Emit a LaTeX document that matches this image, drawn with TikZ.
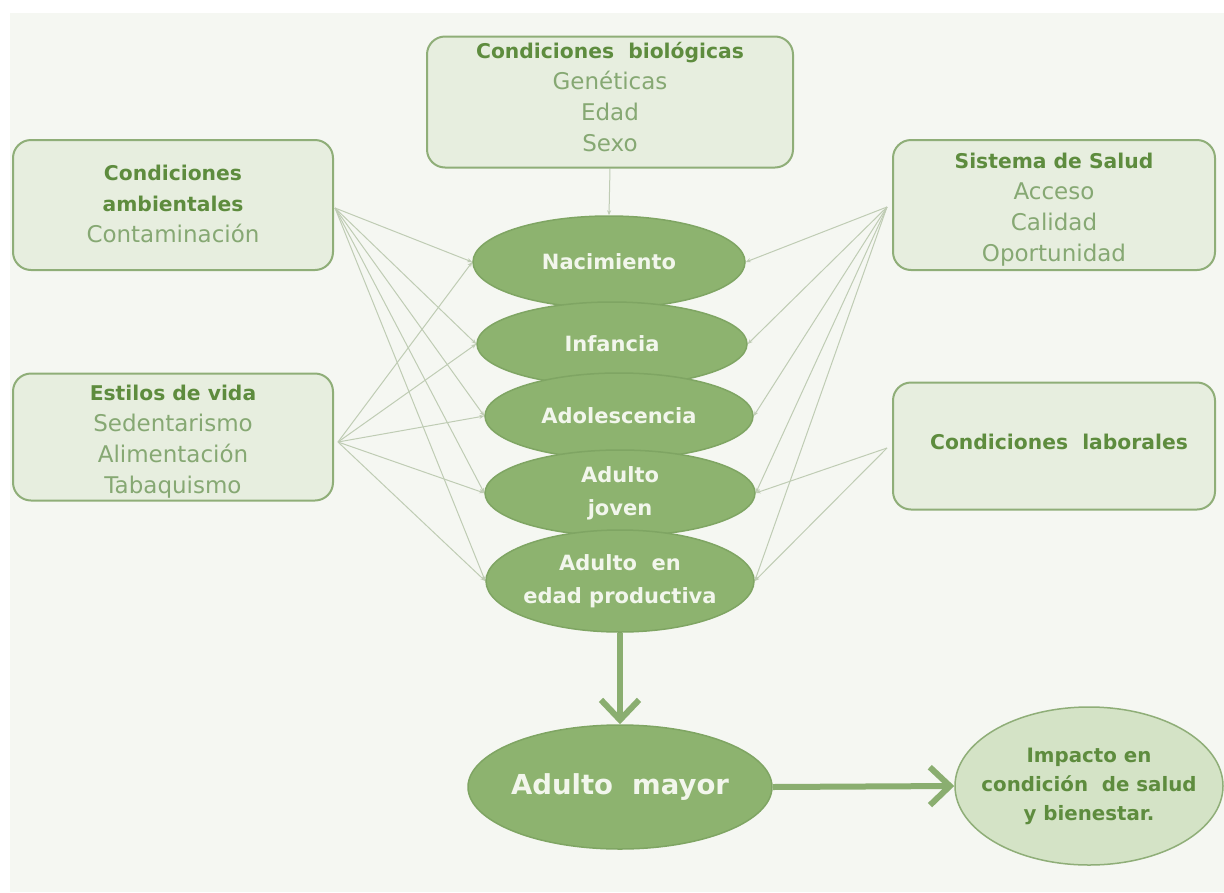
\documentclass[tikz,border=0pt]{standalone}
\usepackage{fontspec}
\setmainfont{DejaVu Sans}
\usetikzlibrary{shapes.geometric,arrows.meta}
\pgfdeclarelayer{back}
\pgfdeclarelayer{lines}
\pgfsetlayers{back,lines,main}
\definecolor{bgc}{HTML}{F5F7F2}
\definecolor{boxfill}{HTML}{E7EEDF}
\definecolor{boxline}{HTML}{8FAE78}
\definecolor{titlec}{HTML}{5E8C3E}
\definecolor{itemc}{HTML}{86A873}
\definecolor{ellfill}{HTML}{8DB36F}
\definecolor{elline}{HTML}{7FA563}
\definecolor{elltext}{HTML}{F2F6EC}
\definecolor{thin}{HTML}{BFCCB4}
\definecolor{thick}{HTML}{8AAE70}
\definecolor{impfill}{HTML}{D4E3C6}
\tikzset{
  factorbox/.style={draw=boxline, line width=2pt, fill=boxfill, rounded corners=18pt, inner sep=0pt},
  boxtext/.style={align=center, text=itemc, font=\fontsize{23}{31}\selectfont, inner sep=0pt},
  stage/.style={ellipse, draw=elline, line width=1.5pt, fill=ellfill, inner sep=-30pt, align=center,
    text=elltext, font=\bfseries\fontsize{21}{33}\selectfont},
  link/.style={draw=thin, line width=1pt, -{Stealth[length=5pt,width=4pt]}},
  bigarrow/.style={draw=thick, line width=6pt, -{Straight Barb[length=20pt,width=38pt]}},
}
\newcommand{\ttl}[1]{{\color{titlec}\bfseries\fontsize{20.3}{31}\selectfont #1}}
\begin{document}
\begin{tikzpicture}[x=1pt,y=-1pt]
\useasboundingbox (0,0) rectangle (1224,892);
\begin{pgfonlayer}{back}
\fill[white] (0,0) rectangle (1224,892);
\fill[bgc] (10,13) rectangle (1224,892);
\end{pgfonlayer}

% factor boxes
\node[factorbox, minimum width=366pt, minimum height=131pt] (bio) at (610,102) {};
\node[boxtext] (biot) at (610,97) {\ttl{Condiciones\ \ biológicas}\\Genéticas\\Edad\\Sexo};
\node[factorbox, minimum width=320pt, minimum height=130pt] (amb) at (173,205) {};
\node[boxtext] (ambt) at (173,204) {\ttl{Condiciones}\\\ttl{ambientales}\\Contaminación};
\node[factorbox, minimum width=320pt, minimum height=127pt] (est) at (173,437) {};
\node[boxtext] (estt) at (173,442) {\ttl{Estilos de vida}\\Sedentarismo\\Alimentación\\Tabaquismo};
\node[factorbox, minimum width=322pt, minimum height=130pt] (sal) at (1054,205) {};
\node[boxtext] (salt) at (1054,210) {\ttl{Sistema de Salud}\\Acceso\\Calidad\\Oportunidad};
\node[factorbox, minimum width=322pt, minimum height=127pt] (lab) at (1054,446) {};
\node[boxtext] (labt) at (1059,442) {\ttl{Condiciones\ \ laborales}};

% life stages
\node[stage, minimum width=272pt, minimum height=92pt] (nac) at (609,262) {Nacimiento};
\node[stage, minimum width=270pt, minimum height=84pt] (inf) at (612,344) {Infancia};
\node[stage, minimum width=268pt, minimum height=86pt] (ado) at (619,416) {Adolescencia};
\node[stage, minimum width=270pt, minimum height=86pt] (jov) at (620,493) {Adulto\\joven};
\node[stage, minimum width=268pt, minimum height=102pt] (prod) at (620,581) {Adulto\ \ en\\edad productiva};
\node[stage, minimum width=304pt, minimum height=124pt, font=\bfseries\fontsize{27.5}{30}\selectfont] (may) at (620,787) {Adulto\ \ mayor};
\node[ellipse, draw=boxline, line width=1.5pt, fill=impfill, minimum width=268pt, minimum height=158pt,
  inner sep=-40pt, align=center, text=titlec, font=\bfseries\fontsize{19.8}{29}\selectfont] (imp) at (1089,786)
  {Impacto en\\condición\ \ de salud\\y bienestar.};

\coordinate (ambo) at (335,208);
\coordinate (esto) at (338,442);
\coordinate (salo) at (887,207);
\coordinate (labo) at (887,448);

\begin{pgfonlayer}{lines}
\foreach \s in {nac,inf,ado,jov,prod}{
  \draw[link] (ambo) -- (\s.west);
  \draw[link] (esto) -- (\s.west);
  \draw[link] (salo) -- (\s.east);
}
\draw[link] (labo) -- (jov.east);
\draw[link] (labo) -- (prod.east);
\draw[link] (bio.south) -- (nac.north);
\end{pgfonlayer}

\draw[bigarrow] (prod.south) -- (may.north);
\draw[bigarrow] (may.east) -- (imp.west);
\end{tikzpicture}
\end{document}
